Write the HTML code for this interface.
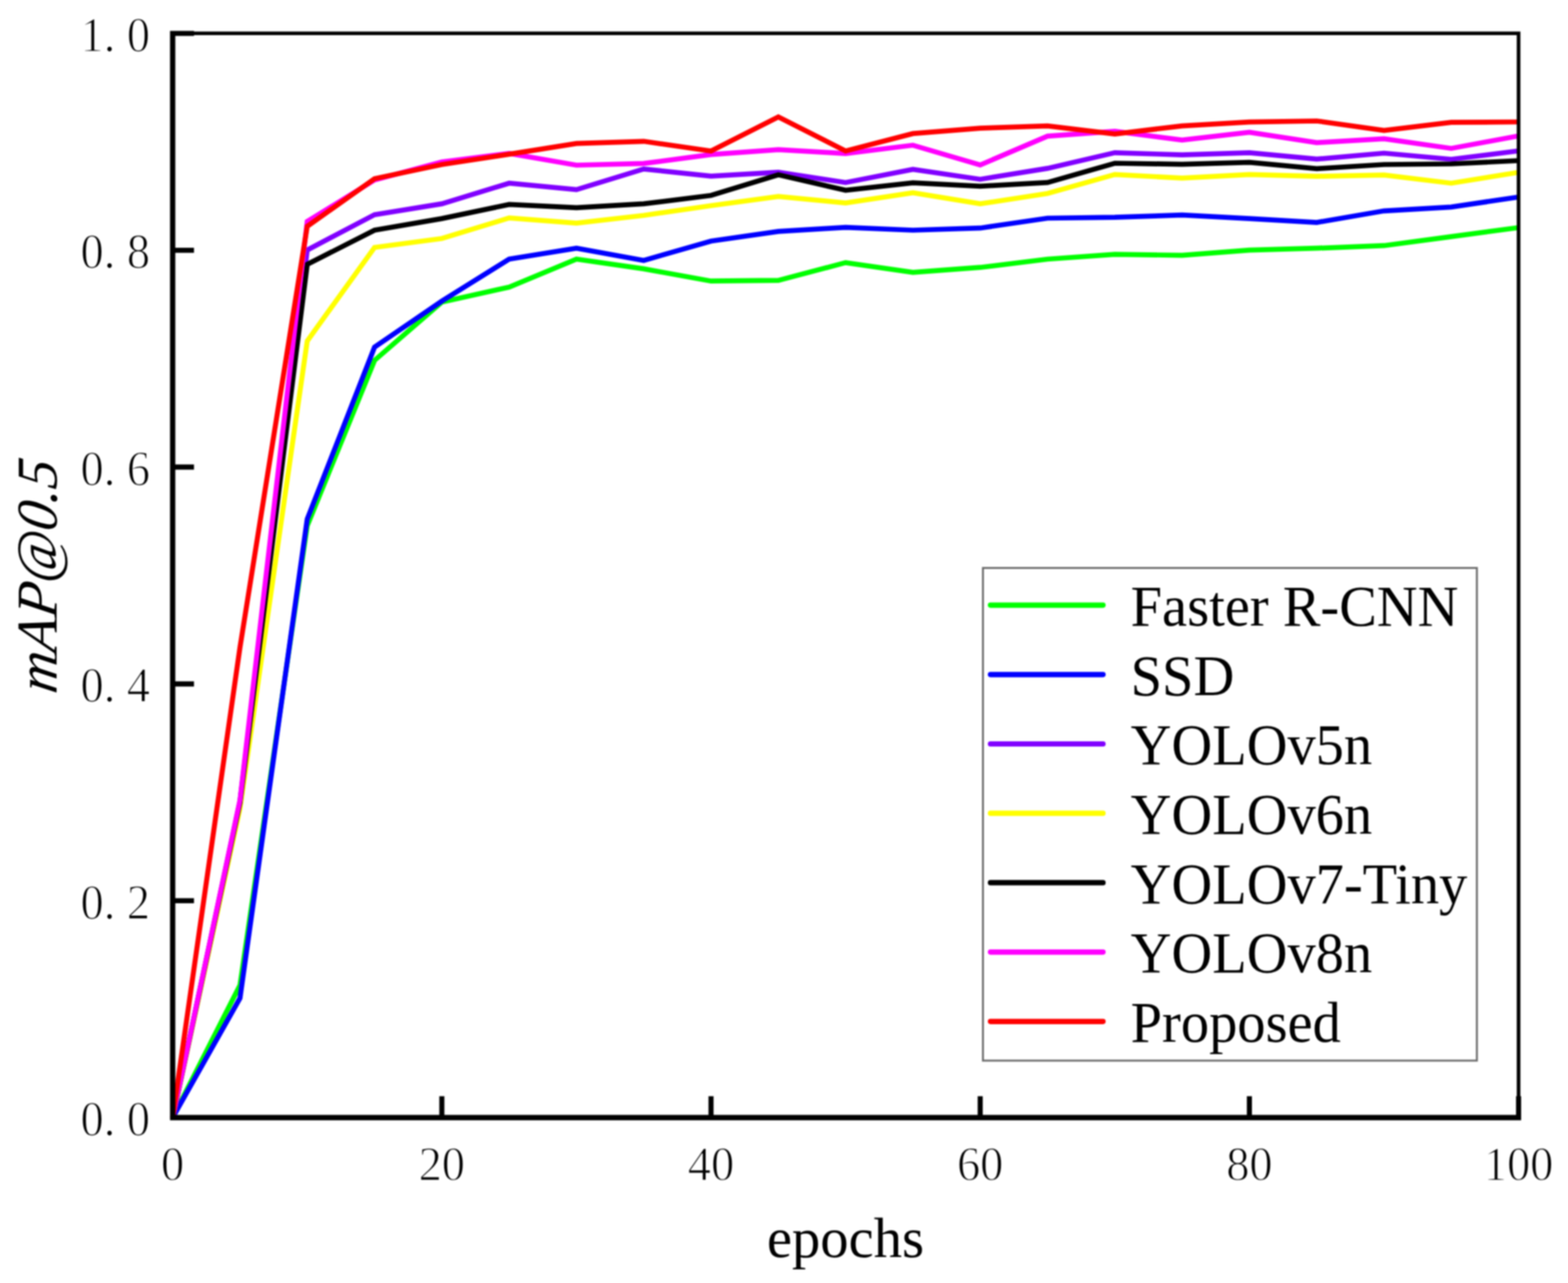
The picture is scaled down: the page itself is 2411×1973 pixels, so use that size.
<!DOCTYPE html>
<html lang="en"><head><meta charset="utf-8"><title>mAP@0.5 vs epochs</title>
<style>
html,body{margin:0;padding:0;background:#fff;}
body{width:2411px;height:1973px;}
svg{display:block;filter:blur(0.8px);}
text{font-family:"Liberation Serif",serif;fill:#000;}
.tk{font-size:71.5px;stroke:#fff;stroke-width:1.5;paint-order:fill stroke;}
.lg{font-size:86.8px;}
.lb{font-size:87px;}
.it{font-style:italic;}
.s{fill:none;stroke-width:7.7;stroke-linejoin:miter;stroke-miterlimit:10;stroke-linecap:butt;}
</style></head><body>
<svg width="2411" height="1973" viewBox="0 0 2411 1973">
<rect x="0" y="0" width="2411" height="1973" fill="#ffffff"/>
<g>
<polyline class="s" stroke="#00ff00" points="265.5,1718.7 369.0,1515.0 472.4,808.5 575.9,554.2 679.4,464.5 782.9,441.5 886.4,398.5 989.8,413.4 1093.3,432.2 1196.8,431.2 1300.2,403.9 1403.7,418.9 1507.2,411.2 1610.7,398.5 1714.2,391.2 1817.6,392.6 1921.1,384.7 2024.6,381.7 2128.1,377.7 2231.5,363.9 2335.0,350.0"/>
<polyline class="s" stroke="#0000ff" points="265.5,1718.7 369.0,1535.0 472.4,798.3 575.9,533.8 679.4,463.0 782.9,398.5 886.4,381.7 989.8,400.5 1093.3,370.8 1196.8,355.9 1300.2,349.6 1403.7,354.0 1507.2,350.7 1610.7,335.5 1714.2,334.2 1817.6,330.6 1921.1,336.1 2024.6,342.1 2128.1,324.3 2231.5,318.3 2335.0,303.0"/>
<polyline class="s" stroke="#8000ff" points="265.5,1718.7 369.0,1232.0 472.4,384.5 575.9,330.2 679.4,313.4 782.9,281.7 886.4,291.6 989.8,259.9 1093.3,270.8 1196.8,264.9 1300.2,280.7 1403.7,260.5 1507.2,275.7 1610.7,258.9 1714.2,234.8 1817.6,238.1 1921.1,234.8 2024.6,244.7 2128.1,235.5 2231.5,245.0 2335.0,232.0"/>
<polyline class="s" stroke="#ffff00" points="265.5,1718.7 369.0,1243.0 472.4,524.4 575.9,380.5 679.4,366.8 782.9,335.1 886.4,343.1 989.8,331.2 1093.3,316.3 1196.8,302.1 1300.2,312.0 1403.7,296.5 1507.2,313.4 1610.7,297.5 1714.2,268.4 1817.6,273.8 1921.1,268.4 2024.6,271.2 2128.1,269.2 2231.5,281.7 2335.0,265.0"/>
<polyline class="s" stroke="#000000" points="265.5,1718.7 369.0,1234.0 472.4,406.5 575.9,354.0 679.4,336.1 782.9,314.4 886.4,319.3 989.8,313.4 1093.3,300.5 1196.8,268.8 1300.2,292.6 1403.7,281.1 1507.2,286.4 1610.7,280.7 1714.2,251.0 1817.6,252.6 1921.1,249.6 2024.6,259.3 2128.1,253.0 2231.5,252.0 2335.0,247.0"/>
<polyline class="s" stroke="#ff00ff" points="265.5,1718.7 369.0,1230.6 472.4,340.5 575.9,276.7 679.4,249.0 782.9,236.0 886.4,254.0 989.8,251.4 1093.3,237.7 1196.8,230.2 1300.2,236.1 1403.7,223.3 1507.2,253.7 1610.7,209.4 1714.2,201.9 1817.6,215.3 1921.1,203.5 2024.6,219.3 2128.1,213.4 2231.5,228.2 2335.0,209.0"/>
<polyline class="s" stroke="#ff0000" points="265.5,1718.7 369.0,995.5 472.4,348.0 575.9,274.8 679.4,253.0 782.9,237.1 886.4,220.7 989.8,217.3 1093.3,232.2 1196.8,179.7 1300.2,232.2 1403.7,205.4 1507.2,197.2 1610.7,193.6 1714.2,206.0 1817.6,193.6 1921.1,187.6 2024.6,186.0 2128.1,200.5 2231.5,188.2 2335.0,187.5"/>
</g>
<path fill="#000" fill-rule="nonzero" d="M261.45 47.45h8.10v1675.25h-8.10zM261.45 1714.60h2077.45v8.10h-2077.45zM261.45 48.50h2076.35v5.60h-2076.35zM2332.20 48.50h5.60v1674.20h-5.60zM261.45 1381.29h36.85v7.80h-36.85zM261.45 1047.83h36.85v7.80h-36.85zM261.45 714.37h36.85v7.80h-36.85zM261.45 380.91h36.85v7.80h-36.85zM261.45 47.45h36.85v7.80h-36.85zM675.50 1685.85h7.80v36.85h-7.80zM1089.40 1685.85h7.80v36.85h-7.80zM1503.30 1685.85h7.80v36.85h-7.80zM1917.20 1685.85h7.80v36.85h-7.80zM2331.10 1685.85h7.80v36.85h-7.80z"/>
<g class="tk" text-anchor="middle">
<text transform="translate(0 1746.25) scale(1 1.055)" x="141.7 168.5 212.9">0.0</text>
<text transform="translate(0 1412.79) scale(1 1.055)" x="141.7 168.5 212.9">0.2</text>
<text transform="translate(0 1079.33) scale(1 1.055)" x="141.7 168.5 212.9">0.4</text>
<text transform="translate(0 745.87) scale(1 1.055)" x="141.7 168.5 212.9">0.6</text>
<text transform="translate(0 412.41) scale(1 1.055)" x="141.7 168.5 212.9">0.8</text>
<text transform="translate(0 78.95) scale(1 1.055)" x="141.7 168.5 212.9">1.0</text>
<text transform="translate(0 1814.50) scale(1 1.04)" x="265.5">0</text>
<text transform="translate(0 1814.50) scale(1 1.04)" x="661.6 697.2">20</text>
<text transform="translate(0 1814.50) scale(1 1.04)" x="1075.5 1111.1">40</text>
<text transform="translate(0 1814.50) scale(1 1.04)" x="1489.4 1525.0">60</text>
<text transform="translate(0 1814.50) scale(1 1.04)" x="1903.3 1938.9">80</text>
<text transform="translate(0 1814.50) scale(1 1.04)" x="2299.4 2335.0 2370.6">100</text>
</g>
<text class="lb" text-anchor="middle" x="1300.0" y="1932.9">epochs</text>
<text class="lb it" text-anchor="middle" transform="translate(87.2 889.3) rotate(-90) skewX(-9) scale(1 1.02)">mAP@0.5</text>
<rect x="1511.4" y="873.4" width="759.5" height="757.6" fill="#fff" stroke="#6b6b6b" stroke-width="3"/>
<g stroke-width="8.2" stroke-linecap="round">
<line x1="1523.0" y1="930.6" x2="1696.0" y2="930.6" stroke="#00ff00"/>
<line x1="1523.0" y1="1037.3" x2="1696.0" y2="1037.3" stroke="#0000ff"/>
<line x1="1523.0" y1="1144.0" x2="1696.0" y2="1144.0" stroke="#8000ff"/>
<line x1="1523.0" y1="1250.7" x2="1696.0" y2="1250.7" stroke="#ffff00"/>
<line x1="1523.0" y1="1357.4" x2="1696.0" y2="1357.4" stroke="#000000"/>
<line x1="1523.0" y1="1464.1" x2="1696.0" y2="1464.1" stroke="#ff00ff"/>
<line x1="1523.0" y1="1570.8" x2="1696.0" y2="1570.8" stroke="#ff0000"/>
</g>
<g class="lg">
<text transform="translate(1738.6 962.30) scale(1 1.02)">Faster R-CNN</text>
<text transform="translate(1738.6 1068.85) scale(1 1.02)">SSD</text>
<text transform="translate(1738.6 1175.40) scale(1 1.02)">YOLOv5n</text>
<text transform="translate(1738.6 1281.95) scale(1 1.02)">YOLOv6n</text>
<text transform="translate(1738.6 1388.50) scale(1 1.02)">YOLOv7-Tiny</text>
<text transform="translate(1738.6 1495.05) scale(1 1.02)">YOLOv8n</text>
<text transform="translate(1738.6 1601.60) scale(1 1.02)">Proposed</text>
</g>
</svg>
</body></html>
